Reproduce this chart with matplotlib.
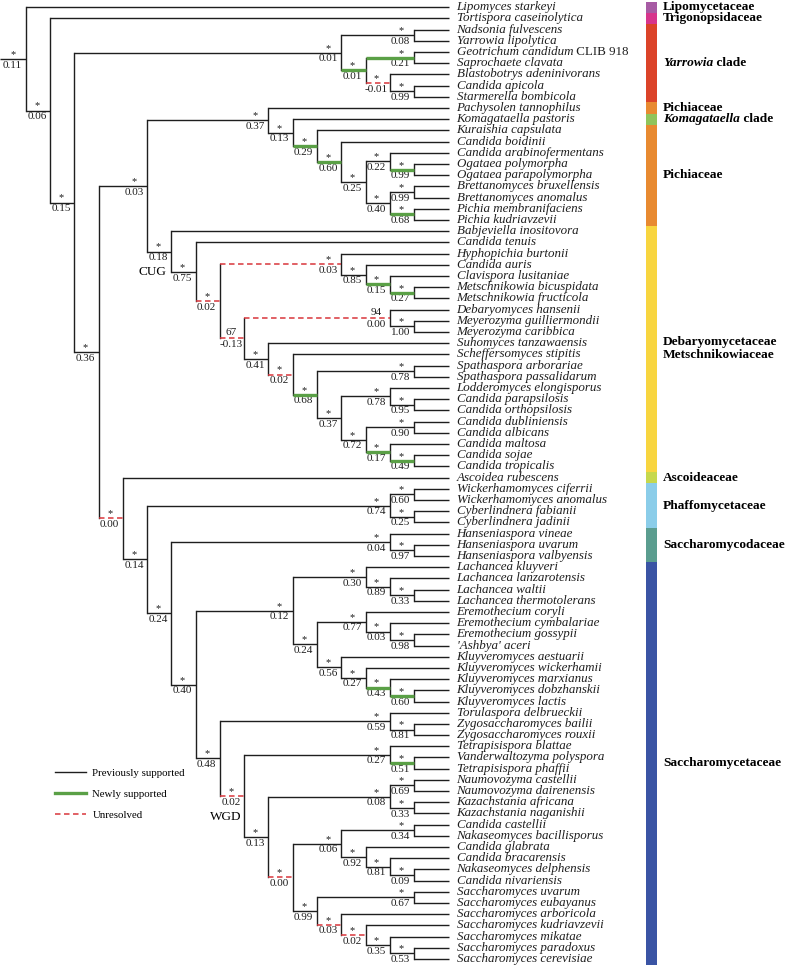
import matplotlib
matplotlib.use("Agg")
import matplotlib.pyplot as plt
from matplotlib.lines import Line2D

# leaves, top to bottom
leaves = [
    "Lipomyces starkeyi", "Tortispora caseinolytica", "Nadsonia fulvescens", "Yarrowia lipolytica",
    "Geotrichum candidum CLIB 918", "Saprochaete clavata", "Blastobotrys adeninivorans",
    "Candida apicola", "Starmerella bombicola", "Pachysolen tannophilus", "Komagataella pastoris",
    "Kuraishia capsulata", "Candida boidinii", "Candida arabinofermentans", "Ogataea polymorpha",
    "Ogataea parapolymorpha", "Brettanomyces bruxellensis", "Brettanomyces anomalus",
    "Pichia membranifaciens", "Pichia kudriavzevii", "Babjeviella inositovora", "Candida tenuis",
    "Hyphopichia burtonii", "Candida auris", "Clavispora lusitaniae", "Metschnikowia bicuspidata",
    "Metschnikowia fructicola", "Debaryomyces hansenii", "Meyerozyma guilliermondii",
    "Meyerozyma caribbica", "Suhomyces tanzawaensis", "Scheffersomyces stipitis",
    "Spathaspora arborariae", "Spathaspora passalidarum", "Lodderomyces elongisporus",
    "Candida parapsilosis", "Candida orthopsilosis", "Candida dubliniensis", "Candida albicans",
    "Candida maltosa", "Candida sojae", "Candida tropicalis", "Ascoidea rubescens",
    "Wickerhamomyces ciferrii", "Wickerhamomyces anomalus", "Cyberlindnera fabianii",
    "Cyberlindnera jadinii", "Hanseniaspora vineae", "Hanseniaspora uvarum",
    "Hanseniaspora valbyensis", "Lachancea kluyveri", "Lachancea lanzarotensis", "Lachancea waltii",
    "Lachancea thermotolerans", "Eremothecium coryli", "Eremothecium cymbalariae",
    "Eremothecium gossypii", "'Ashbya' aceri", "Kluyveromyces aestuarii",
    "Kluyveromyces wickerhamii", "Kluyveromyces marxianus", "Kluyveromyces dobzhanskii",
    "Kluyveromyces lactis", "Torulaspora delbrueckii", "Zygosaccharomyces bailii",
    "Zygosaccharomyces rouxii", "Tetrapisispora blattae", "Vanderwaltozyma polyspora",
    "Tetrapisispora phaffii", "Naumovozyma castellii", "Naumovozyma dairenensis",
    "Kazachstania africana", "Kazachstania naganishii", "Candida castellii",
    "Nakaseomyces bacillisporus", "Candida glabrata", "Candida bracarensis",
    "Nakaseomyces delphensis", "Candida nivariensis", "Saccharomyces uvarum",
    "Saccharomyces eubayanus", "Saccharomyces arboricola", "Saccharomyces kudriavzevii",
    "Saccharomyces mikatae", "Saccharomyces paradoxus", "Saccharomyces cerevisiae",
]

# internal nodes (children before parents): id, child a, child b, support, value, status
yarrowia_nodes = [
    ("yar1", "Nadsonia fulvescens", "Yarrowia lipolytica", "*", 0.08, "prev"),
    ("yar2", "Geotrichum candidum CLIB 918", "Saprochaete clavata", "*", 0.21, "new"),
    ("yar3", "Candida apicola", "Starmerella bombicola", "*", 0.99, "prev"),
    ("yar4", "Blastobotrys adeninivorans", "yar3", "*", -0.01, "unres"),
    ("yar5", "yar2", "yar4", "*", 0.01, "new"),
    ("yar6", "yar1", "yar5", "*", 0.01, "prev"),
]
pichia_nodes = [
    ("pic1", "Ogataea polymorpha", "Ogataea parapolymorpha", "*", 0.99, "new"),
    ("pic2", "Candida arabinofermentans", "pic1", "*", 0.22, "prev"),
    ("pic3", "Brettanomyces bruxellensis", "Brettanomyces anomalus", "*", 0.99, "prev"),
    ("pic4", "Pichia membranifaciens", "Pichia kudriavzevii", "*", 0.68, "new"),
    ("pic5", "pic3", "pic4", "*", 0.40, "prev"),
    ("pic6", "pic2", "pic5", "*", 0.25, "prev"),
    ("pic7", "Candida boidinii", "pic6", "*", 0.60, "new"),
    ("pic8", "Kuraishia capsulata", "pic7", "*", 0.29, "new"),
    ("pic9", "Komagataella pastoris", "pic8", "*", 0.13, "prev"),
    ("pic10", "Pachysolen tannophilus", "pic9", "*", 0.37, "prev"),
]
cug_nodes = [
    ("met1", "Metschnikowia bicuspidata", "Metschnikowia fructicola", "*", 0.27, "new"),
    ("met2", "Clavispora lusitaniae", "met1", "*", 0.15, "new"),
    ("met3", "Candida auris", "met2", "*", 0.85, "prev"),
    ("met4", "Hyphopichia burtonii", "met3", "*", 0.03, "unres"),
    ("deb1", "Meyerozyma guilliermondii", "Meyerozyma caribbica", "*", 1.00, "prev"),
    ("deb2", "Debaryomyces hansenii", "deb1", "94", 0.00, "unres"),
    ("cand1", "Spathaspora arborariae", "Spathaspora passalidarum", "*", 0.78, "prev"),
    ("cand2", "Candida parapsilosis", "Candida orthopsilosis", "*", 0.95, "prev"),
    ("cand3", "Lodderomyces elongisporus", "cand2", "*", 0.78, "prev"),
    ("cand4", "Candida dubliniensis", "Candida albicans", "*", 0.90, "prev"),
    ("cand5", "Candida sojae", "Candida tropicalis", "*", 0.49, "new"),
    ("cand6", "Candida maltosa", "cand5", "*", 0.17, "new"),
    ("cand7", "cand4", "cand6", "*", 0.72, "prev"),
    ("cand8", "cand3", "cand7", "*", 0.37, "prev"),
    ("cand9", "cand1", "cand8", "*", 0.68, "new"),
    ("cand10", "Scheffersomyces stipitis", "cand9", "*", 0.02, "unres"),
    ("cand11", "Suhomyces tanzawaensis", "cand10", "*", 0.41, "prev"),
    ("cug1", "deb2", "cand11", "67", -0.13, "unres"),
    ("cug2", "met4", "cug1", "*", 0.02, "unres"),
    ("cug3", "Candida tenuis", "cug2", "*", 0.75, "prev"),
    ("cug4", "Babjeviella inositovora", "cug3", "*", 0.18, "prev"),
]
phaff_nodes = [
    ("pha1", "Wickerhamomyces ciferrii", "Wickerhamomyces anomalus", "*", 0.60, "prev"),
    ("pha2", "Cyberlindnera fabianii", "Cyberlindnera jadinii", "*", 0.25, "prev"),
    ("pha3", "pha1", "pha2", "*", 0.74, "prev"),
    ("han1", "Hanseniaspora uvarum", "Hanseniaspora valbyensis", "*", 0.97, "prev"),
    ("han2", "Hanseniaspora vineae", "han1", "*", 0.04, "prev"),
]
kle_nodes = [
    ("lac1", "Lachancea waltii", "Lachancea thermotolerans", "*", 0.33, "prev"),
    ("lac2", "Lachancea lanzarotensis", "lac1", "*", 0.89, "prev"),
    ("lac3", "Lachancea kluyveri", "lac2", "*", 0.30, "prev"),
    ("ere1", "Eremothecium gossypii", "'Ashbya' aceri", "*", 0.98, "prev"),
    ("ere2", "Eremothecium cymbalariae", "ere1", "*", 0.03, "prev"),
    ("ere3", "Eremothecium coryli", "ere2", "*", 0.77, "prev"),
    ("klu1", "Kluyveromyces dobzhanskii", "Kluyveromyces lactis", "*", 0.60, "new"),
    ("klu2", "Kluyveromyces marxianus", "klu1", "*", 0.43, "new"),
    ("klu3", "Kluyveromyces wickerhamii", "klu2", "*", 0.27, "prev"),
    ("klu4", "Kluyveromyces aestuarii", "klu3", "*", 0.56, "prev"),
    ("kle1", "ere3", "klu4", "*", 0.24, "prev"),
    ("kle2", "lac3", "kle1", "*", 0.12, "prev"),
]
wgd_nodes = [
    ("zyg1", "Zygosaccharomyces bailii", "Zygosaccharomyces rouxii", "*", 0.81, "prev"),
    ("zyg2", "Torulaspora delbrueckii", "zyg1", "*", 0.59, "prev"),
    ("tet1", "Vanderwaltozyma polyspora", "Tetrapisispora phaffii", "*", 0.51, "new"),
    ("tet2", "Tetrapisispora blattae", "tet1", "*", 0.27, "prev"),
    ("nau1", "Naumovozyma castellii", "Naumovozyma dairenensis", "*", 0.69, "prev"),
    ("kaz1", "Kazachstania africana", "Kazachstania naganishii", "*", 0.33, "prev"),
    ("nk", "nau1", "kaz1", "*", 0.08, "prev"),
    ("nak1", "Candida castellii", "Nakaseomyces bacillisporus", "*", 0.34, "prev"),
    ("nak2", "Nakaseomyces delphensis", "Candida nivariensis", "*", 0.09, "prev"),
    ("nak3", "Candida bracarensis", "nak2", "*", 0.81, "prev"),
    ("nak4", "Candida glabrata", "nak3", "*", 0.92, "prev"),
    ("nak5", "nak1", "nak4", "*", 0.06, "prev"),
    ("sac1", "Saccharomyces uvarum", "Saccharomyces eubayanus", "*", 0.67, "prev"),
    ("sac2", "Saccharomyces paradoxus", "Saccharomyces cerevisiae", "*", 0.53, "prev"),
    ("sac3", "Saccharomyces mikatae", "sac2", "*", 0.35, "prev"),
    ("sac4", "Saccharomyces kudriavzevii", "sac3", "*", 0.02, "unres"),
    ("sac5", "Saccharomyces arboricola", "sac4", "*", 0.03, "unres"),
    ("sac6", "sac1", "sac5", "*", 0.99, "prev"),
    ("ns", "nak5", "sac6", "*", 0.00, "unres"),
    ("wgd1", "nk", "ns", "*", 0.13, "prev"),
    ("wgd", "tet2", "wgd1", "*", 0.02, "unres"),
]
backbone_nodes = [
    ("pre", "zyg2", "wgd", "*", 0.48, "prev"),
    ("sc1", "kle2", "pre", "*", 0.40, "prev"),
    ("sc2", "han2", "sc1", "*", 0.24, "prev"),
    ("sc3", "pha3", "sc2", "*", 0.14, "prev"),
    ("sc4", "Ascoidea rubescens", "sc3", "*", 0.00, "unres"),
    ("bb1", "pic10", "cug4", "*", 0.03, "prev"),
    ("bb2", "bb1", "sc4", "*", 0.36, "prev"),
    ("bb3", "yar6", "bb2", "*", 0.15, "prev"),
    ("bb4", "Tortispora caseinolytica", "bb3", "*", 0.06, "prev"),
    ("root", "Lipomyces starkeyi", "bb4", "*", 0.11, "prev"),
]

families = ["Lipomycetaceae", "Trigonopsidaceae", "Yarrowia clade", "Pichiaceae",
            "Komagataella clade", "Pichiaceae", "Debaryomycetaceae\nMetschnikowiaceae",
            "Ascoideaceae", "Phaffomycetaceae", "Saccharomycodaceae", "Saccharomycetaceae"]
family_first = [0, 1, 2, 9, 10, 11, 20, 42, 43, 47, 50]
family_last = [0, 1, 8, 9, 10, 19, 41, 42, 46, 49, 85]
family_colors = ["#a75ba4", "#d7358c", "#db4329", "#e88a31", "#90c45b", "#e88a31",
                 "#f8d53f", "#c6d84d", "#8bcde9", "#5b9d8f", "#3a54a4"]

legend_labels = ["Previously supported", "Newly supported", "Unresolved"]

BLACK = "#1e1e1e"
styles = {
    "prev": dict(color=BLACK, lw=1.0, ls="-"),
    "new": dict(color="#5aa046", lw=2.4, ls="-"),
    "unres": dict(color="#d8353b", lw=1.1, ls=(0, (3.6, 2.3))),
}

plt.rcParams["font.family"] = "Liberation Serif"

nodes = yarrowia_nodes + pichia_nodes + cug_nodes + phaff_nodes + kle_nodes + wgd_nodes + backbone_nodes

# cladogram layout: x from node height, y midway between children
height = {name: 0 for name in leaves}
ypos = {name: i for i, name in enumerate(leaves)}
status = {}
for nid, a, b, sup, val, st in nodes:
    height[nid] = max(height[a], height[b]) + 1
    ypos[nid] = (ypos[a] + ypos[b]) / 2
    status[nid] = st
H = height["root"]
TIP = H + 0.44


def xpos(n):
    return TIP if height[n] == 0 else H - height[n]


fig = plt.figure(figsize=(7.86, 9.68), dpi=100)
ax = fig.add_axes([0, 0, 1, 1])
XMIN, XMAX = -1.072, 31.34
ax.set_xlim(XMIN, XMAX)
ax.set_ylim(85.80, -0.652)
ax.axis("off")


def branch(x0, x1, y, st):
    s = styles[st]
    ax.plot([x0, x1], [y, y], color=s["color"], lw=s["lw"], ls=s["ls"],
            solid_capstyle="butt", zorder=3 if st != "prev" else 2)


for nid, a, b, sup, val, st in nodes:
    x = xpos(nid)
    ax.plot([x, x], [ypos[a], ypos[b]], color=BLACK, lw=1.0, solid_capstyle="projecting", zorder=2)
    for c in (a, b):
        branch(x, xpos(c), ypos[c], status.get(c, "prev"))
    # support above, value below the branch leading into the node
    lx = x - 0.55
    if sup == "*":
        ax.annotate("*", (lx, ypos[nid]), xytext=(0, 1.4), textcoords="offset points",
                    ha="center", va="baseline", fontsize=7.5, color=BLACK)
    else:
        ax.annotate(sup, (lx, ypos[nid]), xytext=(0, 2.4), textcoords="offset points",
                    ha="center", va="baseline", fontsize=8, color=BLACK)
    ax.annotate(f"{val:.2f}", (lx, ypos[nid]), xytext=(0, -1.2), textcoords="offset points",
                ha="center", va="top", fontsize=8, color=BLACK)
branch(XMIN, 0, ypos["root"], "prev")

# clade marks
ax.annotate("CUG", (xpos("cug4") - 0.2, ypos["cug3"]), ha="right", va="center", fontsize=9.5)
ax.annotate("WGD", (xpos("wgd") - 0.75, ypos["wgd"]), xytext=(0, -15), textcoords="offset points",
            ha="center", va="center", fontsize=9.5)


def pieces_text(x, y, pieces, dx, **kw):
    t = ax.annotate(pieces[0][0], (x, y), xytext=(dx, 0), textcoords="offset points",
                    ha="left", va="center", fontstyle=pieces[0][1], **kw)
    for txt, style in pieces[1:]:
        t = ax.annotate(txt, xy=(1, 0), xycoords=t, ha="left", va="bottom", fontstyle=style, **kw)


for i, name in enumerate(leaves):
    if "CLIB" in name:
        genus, rest = name.split(" CLIB")
        pieces = [(genus, "italic"), (" CLIB" + rest, "normal")]
    else:
        pieces = [(name, "italic")]
    pieces_text(TIP, i, pieces, 5.5, fontsize=9.4, color=BLACK)

# family colour bar and names
BAR_X = 25.8
for name, f0, f1, col in zip(families, family_first, family_last, family_colors):
    ax.bar(BAR_X, f1 - f0 + 1, bottom=f0 - 0.5, width=0.45, color=col, linewidth=0)
    yc = (f0 + f1) / 2
    if name.endswith(" clade"):
        pieces = [(name[:-6], "italic"), (" clade", "normal")]
    else:
        pieces = [(name, "normal")]
    pieces_text(BAR_X + 0.225, yc, pieces, 4.3, fontsize=9.6, fontweight="bold", color="black",
                linespacing=1.15)

handles = [Line2D([], [], color=styles[k]["color"], lw=styles[k]["lw"], ls=styles[k]["ls"])
           for k in ("prev", "new", "unres")]
ax.legend(handles, legend_labels, loc="upper left", bbox_to_anchor=(55 / 786, 1 - 768 / 968),
          frameon=False, fontsize=7.8, handlelength=2.9, handletextpad=0.55, labelspacing=1.05,
          borderpad=0, borderaxespad=0)

fig.savefig("out.png", dpi=100)
